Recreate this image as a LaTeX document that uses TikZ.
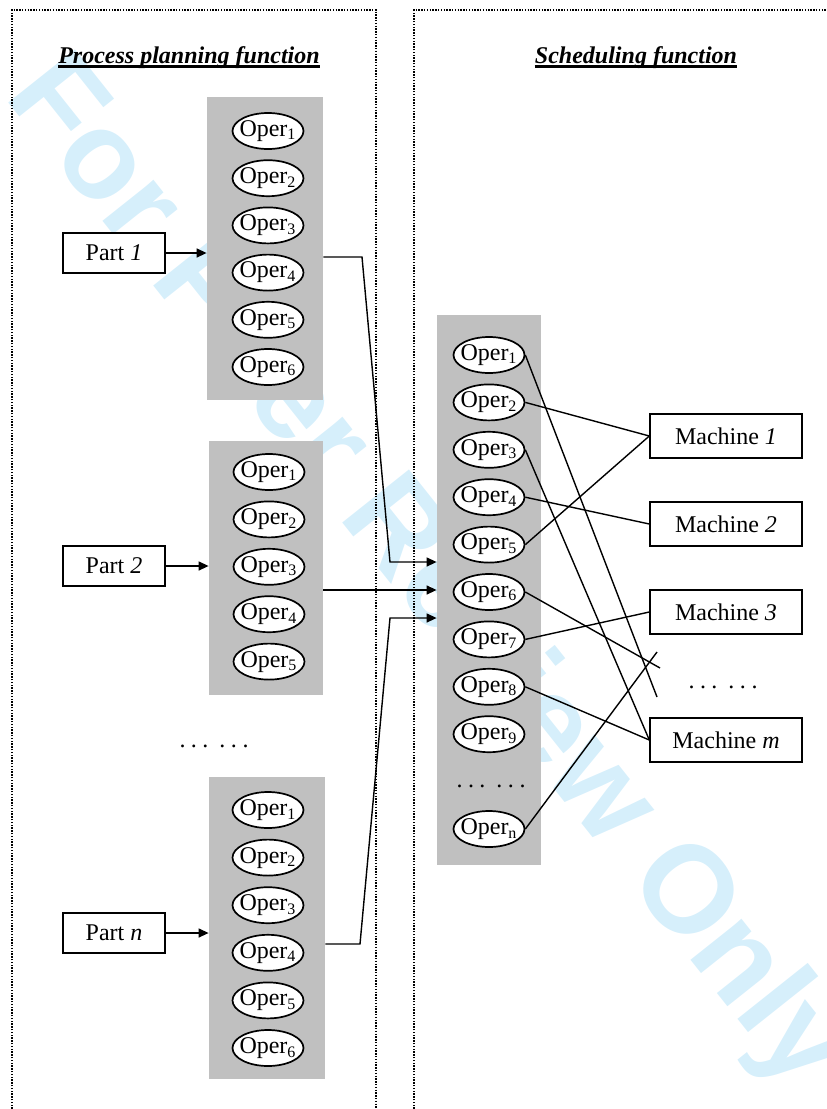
\documentclass[tikz,border=0pt]{standalone}
\usepackage{fontspec}
\setmainfont{Liberation Serif}
\newfontfamily\wmfont{Liberation Sans}
\usetikzlibrary{positioning,arrows.meta,calc,fit,shapes.geometric}
\definecolor{opGray}{HTML}{C0C0C0}
\definecolor{wmBlue}{HTML}{D6EFFB}
\tikzset{
  opcol/.style={fill=opGray, draw=none, inner sep=0pt},
  oper/.style={ellipse, draw, line width=0.85pt, fill=white, minimum width=35.5pt, minimum height=18pt, inner sep=0pt},
  box/.style={draw, line width=0.7pt, fill=white, inner sep=0pt},
  link/.style={line width=0.7pt},
  arr/.style={link, -{Triangle[length=5pt,width=4.5pt]}},
  frame/.style={line width=1pt, dash pattern=on 0.7pt off 0.7pt},
  ttl/.style={inner sep=0pt, anchor=base, font=\fontsize{12}{14}\selectfont\bfseries\itshape},
}
\newcommand{\opr}[1]{\makebox[0pt]{Oper\textsubscript{#1}}}
\newcommand{\sdots}{.\kern2.75pt.\kern2.75pt.\kern5.5pt.\kern2.75pt.\kern2.75pt.}

\begin{document}
\begin{tikzpicture}[x=0.5pt, y=-0.5pt, font=\fontsize{12}{14}\selectfont]
\clip (0,0) rectangle (826,1109);
% watermark
\node[rotate=-51.5, text=wmBlue, font=\wmfont\bfseries\fontsize{62}{62}\selectfont] (wm) at (425,575) {For Peer Review Only};
% the two function frames
\draw[frame] (12,1120) |- (376,10) -- (376,1120);
\draw[frame] (414,1120) |- (840,10);
\node[ttl] (ttlA) at (189,63) {Process planning function};
\node[ttl] (ttlB) at (636,63) {Scheduling function};
\draw[line width=1.4pt] ([yshift=-1.6pt]ttlA.base west) -- ([yshift=-1.6pt]ttlA.base east);
\draw[line width=1.4pt] ([yshift=-1.6pt]ttlB.base west) -- ([yshift=-1.6pt]ttlB.base east);
% operation columns
\node[opcol, fit={(207,97) (323,400)}] (colA) {};
\node[opcol, fit={(209,441) (323,695)}] (colB) {};
\node[opcol, fit={(209,777) (325,1079)}] (colN) {};
\node[opcol, fit={(437,315) (541,865)}] (ctr) {};
\foreach \i in {1,...,6} \node[oper] (A\i) at (268,{131+47.2*(\i-1)}) {\opr{\i}};
\foreach \i in {1,...,5} \node[oper] (B\i) at (269,{472+47.4*(\i-1)}) {\opr{\i}};
\foreach \i in {1,...,6} \node[oper] (N\i) at (268,{810+47.6*(\i-1)}) {\opr{\i}};
\foreach \i in {1,...,9} \node[oper] (C\i) at (489,{355+47.4*(\i-1)}) {\opr{\i}};
\node[oper] (Cn) at (489,829) {\opr{n}};
\node[anchor=base] (dotsC) at (491,787) {\sdots};
\node[anchor=base] (dotsL) at (214,747) {\sdots};
% parts
\node[box, minimum width=51pt, minimum height=20pt] (p1) at (114,253) {Part \textit{1}};
\node[box, minimum width=51pt, minimum height=20pt] (p2) at (114,566) {Part \textit{2}};
\node[box, minimum width=51pt, minimum height=20pt] (pn) at (114,933) {Part \textit{n}};
\draw[arr] (p1) -- (p1 -| colA.west);
\draw[arr] (p2) -- (p2 -| colB.west);
\draw[arr] (pn) -- (pn -| colN.west);
% machines
\node[box, minimum width=76pt, minimum height=22pt] (m1) at (726,436) {Machine \textit{1}};
\node[box, minimum width=76pt, minimum height=22pt] (m2) at (726,524) {Machine \textit{2}};
\node[box, minimum width=76pt, minimum height=22pt] (m3) at (726,612) {Machine \textit{3}};
\node[box, minimum width=76pt, minimum height=22pt] (mm) at (726,740) {Machine \textit{m}};
\node[anchor=base] (dotsM) at (723,688) {\sdots};
% routes into the scheduling column
\coordinate (k1) at (362,257);
\coordinate (k2) at (390,562);
\coordinate (k3) at (380,590);
\coordinate (k4) at (360,944);
\coordinate (k5) at (390,618);
\draw[arr] (colA.east |- k1) -- (k1) -- (k2) -- (k2 -| ctr.west);
\draw[arr] (colB.east |- k3) -- (k3 -| ctr.west);
\draw[arr] (colN.east |- k4) -- (k4) -- (k5) -- (k5 -| ctr.west);
% operation to machine assignment
\coordinate (x1) at (657,697);
\coordinate (x2) at (660,668);
\coordinate (x3) at (657,652);
\draw[link] (C1.east) -- (x1);
\draw[link] (C2.east) -- (m1.west);
\draw[link] (C3.east) -- (mm.west);
\draw[link] (C4.east) -- (m2.west);
\draw[link] (C5.east) -- (m1.west);
\draw[link] (C6.east) -- (x2);
\draw[link] (C7.east) -- (m3.west);
\draw[link] (C8.east) -- (mm.west);
\draw[link] (Cn.east) -- (x3);
\end{tikzpicture}
\end{document}
